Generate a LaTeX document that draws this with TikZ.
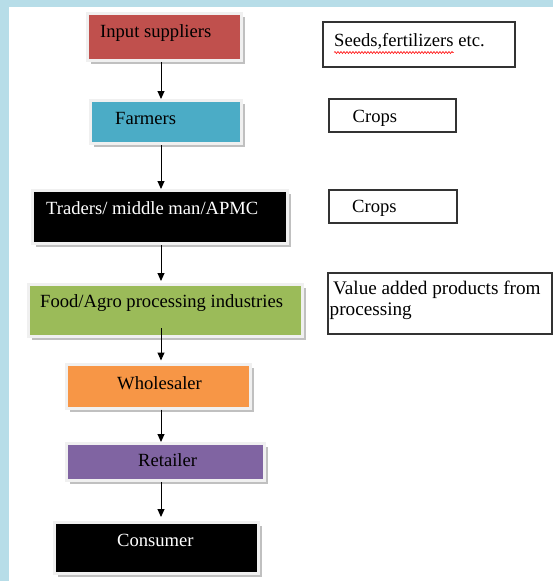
\documentclass[tikz,border=0pt]{standalone}
\usepackage{fontspec}
\setmainfont{Liberation Serif}
\usetikzlibrary{arrows.meta,shadows,decorations.pathmorphing}
\definecolor{bgblue}{HTML}{B7DDE8}
\definecolor{cred}{HTML}{C0504D}
\definecolor{cblue}{HTML}{4BACC6}
\definecolor{cgreen}{HTML}{9BBB59}
\definecolor{corange}{HTML}{F79646}
\definecolor{cpurple}{HTML}{8064A2}
\tikzset{
  flowbox/.style={rectangle, inner sep=0pt, draw=black!6, line width=3pt,
    drop shadow={shadow xshift=3.5pt, shadow yshift=-3.5pt, fill=black!35, opacity=0.7}},
  notebox/.style={rectangle, inner sep=0pt, draw=black!80, line width=1.2pt, fill=white},
  txt/.style={anchor=base west, inner sep=0pt, font=\fontsize{18.6}{22}\selectfont},
  arr/.style={line width=1pt, -{Triangle[length=8pt,width=7pt]}},
}
\begin{document}
\begin{tikzpicture}[x=1pt,y=-1pt]
\useasboundingbox (0,0) rectangle (553,581);
\fill[white] (0,0) rectangle (553,581);
\fill[bgblue] (0,0) rectangle (553,7);
\fill[bgblue] (0,0) rectangle (9,581);

% flow boxes
\node[flowbox, fill=cred,    minimum width=154, minimum height=47] (inp)  at (164.5,37) {};
\node[flowbox, fill=cblue,   minimum width=151, minimum height=43] (farm) at (166,122) {};
\node[flowbox, fill=black,   minimum width=255, minimum height=53] (trad) at (160,217) {};
\node[flowbox, fill=cgreen,  minimum width=274, minimum height=52] (food) at (165.5,310.5) {};
\node[flowbox, fill=corange, minimum width=184, minimum height=44] (whol) at (158.5,386) {};
\node[flowbox, fill=cpurple, minimum width=198, minimum height=37] (ret)  at (165.5,462) {};
\node[flowbox, fill=black,   minimum width=204, minimum height=51] (cons) at (156.5,548) {};

% flow texts
\node[txt] (inpt)  at (100,37.5) {Input suppliers};
\node[txt] (farmt) at (115,124) {Farmers};
\node[txt, text=white] (tradt) at (46,214.3) {Traders/ middle man/APMC};
\node[txt] (foodt) at (40,307.7) {Food/Agro processing industries};
\node[txt] (wholt) at (117,389) {Wholesaler};
\node[txt] (rett)  at (138,466.7) {Retailer};
\node[txt, text=white] (const) at (117,546) {Consumer};

% note boxes
\node[notebox, minimum width=192, minimum height=45] (seeds) at (419,44.5) {};
\node[notebox, minimum width=127, minimum height=33] (crop1) at (392.5,115.5) {};
\node[notebox, minimum width=128, minimum height=33] (crop2) at (393,206.5) {};
\node[notebox, minimum width=224, minimum height=61] (val)   at (440,303.5) {};

\node[txt] (seedsa) at (334,46) {Seeds,fertilizers};
\node[txt, anchor=base west] (seedsb) at ([xshift=4.5pt]seedsa.base east) {etc.};
\draw[red, line width=0.6pt, decorate, decoration={snake, amplitude=1pt, segment length=3pt}]
  ([yshift=-6.5pt]seedsa.base west) -- ([yshift=-6.5pt]seedsa.base east);
\node[txt] (crop1t) at (352.5,122.7) {Crops};
\node[txt] (crop2t) at (352,212.7) {Crops};
\node[txt, font=\fontsize{19.2}{22}\selectfont] (vala) at (333,294.3) {Value added products from};
\node[txt, font=\fontsize{19.2}{22}\selectfont] (valb) at (329.5,315) {processing};

% connectors
\coordinate (axis) at (161,0);
\draw[arr] (inp.south -| axis) -- (farm.north -| axis);
\draw[arr] (farm.south -| axis) -- (trad.north -| axis);
\draw[arr] (trad.south -| axis) -- ([yshift=2pt]food.north -| axis);
\draw[arr] ([yshift=10pt]food.south -| axis) -- ([yshift=2pt]whol.north -| axis);
\draw[arr] (whol.south -| axis) -- (ret.north -| axis);
\draw[arr] (ret.south -| axis) -- ([yshift=4pt]cons.north -| axis);
\end{tikzpicture}
\end{document}
